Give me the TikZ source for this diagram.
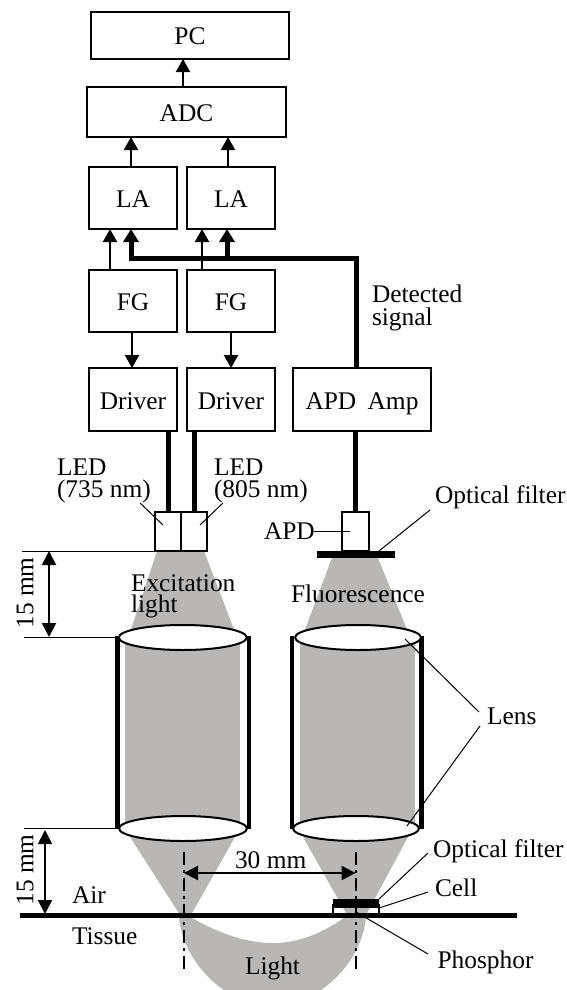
\documentclass[tikz,border=0pt]{standalone}
\usepackage{fontspec}
\setmainfont{Liberation Serif}
\usetikzlibrary{arrows.meta,calc}
\definecolor{lightgray}{HTML}{B8B7B5}
\tikzset{
  x=1pt,y=-1pt,
  every node/.style={font=\fontsize{25.4}{23}\selectfont,inner sep=0pt,outer sep=0pt},
  box/.style={draw,line width=2pt,fill=white,text height=19pt,text depth=0pt},
  lbl/.style={anchor=base west},
  uparrow/.style={line width=2.2pt,-{Triangle[length=13pt,width=14pt]}},
  heavy/.style={line width=5pt,line cap=butt},
  heavyup/.style={line width=5pt,-{Triangle[length=13pt,width=15pt]}},
  leader/.style={line width=1pt},
  dimarrow/.style={line width=2pt,{Triangle[length=14pt,width=14pt]}-{Triangle[length=14pt,width=14pt]}},
  axisline/.style={line width=2pt,dash pattern=on 13pt off 5pt on 3pt off 5pt},
  wall/.style={line width=4.5pt},
  lensdisc/.style={draw,line width=2pt,fill=white},
}
\begin{document}
\begin{tikzpicture}
\useasboundingbox (0,0) rectangle (566,990);
\clip (0,0) rectangle (566,990);
% light
\fill[lightgray] (157,551) -- (204,551) -- (235,632) -- (130,632) -- cycle;
\fill[lightgray] (332,558) -- (378,558) -- (408,632) -- (304,632) -- cycle;
\fill[lightgray] (124.5,637) rectangle (240,828);
\fill[lightgray] (300,637) rectangle (414.5,828);
\fill[lightgray] (130,837) -- (235,837) -- (191,915) -- (180,915) -- cycle;
\fill[lightgray] (303,837) -- (408,837) -- (366,915) -- (347,915) -- cycle;
\fill[lightgray] (179,915) .. controls (181,960) and (225,1006) .. (272,1006)
  .. controls (320,1006) and (364,960) .. (366,915) -- (348,915)
  .. controls (325,932) and (300,943) .. (273,943)
  .. controls (245,943) and (215,932) .. (187,915) -- cycle;
% tubes
\draw[wall] (117.5,636) -- (117.5,829);
\draw[wall] (249,636) -- (249,829);
\draw[wall] (292,636) -- (292,829);
\draw[wall] (421.7,636) -- (421.7,829);
\draw[lensdisc] (182.75,637.5) ellipse [x radius=64,y radius=12.5];
\draw[lensdisc] (358,637.5) ellipse [x radius=63,y radius=12.5];
\draw[lensdisc] (183,828.5) ellipse [x radius=64,y radius=12.5];
\draw[lensdisc] (356,828.5) ellipse [x radius=63,y radius=12.5];
% boxes
\node[box,minimum width=198pt,minimum height=47pt] (pc) at (190,35.5) {PC};
\node[box,minimum width=199pt,minimum height=50pt] (adc) at (186.5,112) {ADC};
\node[box,minimum width=88pt,minimum height=62pt] (la1) at (133,198) {LA};
\node[box,minimum width=88pt,minimum height=62pt] (la2) at (231,198) {LA};
\node[box,minimum width=88pt,minimum height=62pt] (fg1) at (133,301) {FG};
\node[box,minimum width=88pt,minimum height=62pt] (fg2) at (231,301) {FG};
\node[box,minimum width=88pt,minimum height=63pt] (dr1) at (133,399.5) {Driver};
\node[box,minimum width=88pt,minimum height=63pt] (dr2) at (231,399.5) {Driver};
\node[box,minimum width=138pt,minimum height=63pt] (amp) at (362,399.5) {APD\hspace{5pt} Amp\hspace{7pt}};
\node[box,minimum width=26pt,minimum height=39pt] (led1) at (168,531.5) {};
\node[box,minimum width=26pt,minimum height=39pt] (led2) at (194,531.5) {};
\node[box,minimum width=26.5pt,minimum height=39pt] (apd) at (355.5,531.5) {};
\node[fill=black,minimum width=78pt,minimum height=7pt] (filt1) at (356,554.5) {};
% thin arrows
\draw[uparrow] ([xshift=-7pt]adc.north -| pc.north) -- ([xshift=-7pt]pc.south);
\draw[uparrow] ([xshift=-2pt]la1.north) -- ([xshift=-2pt]la1.north |- adc.south);
\draw[uparrow] ([xshift=-3pt]la2.north) -- ([xshift=-3pt]la2.north |- adc.south);
\draw[uparrow] ([xshift=-23pt]fg1.north) -- ([xshift=-23pt]la1.south);
\draw[uparrow] ([xshift=-29pt]fg2.north) -- ([xshift=-29pt]la2.south);
\draw[uparrow] ([xshift=-1pt]fg1.south) -- ([xshift=-1pt]dr1.north);
\draw[uparrow] (fg2.south) -- (dr2.north);
% heavy signal
\coordinate (sigA) at ($(amp.north)+(-6,0)$);
\coordinate (bend) at (356,258);
\draw[heavy,line join=miter] (sigA) -- (sigA |- bend) -- ([xshift=-2pt]la1.south |- bend);
\draw[heavyup] ([xshift=-2pt,yshift=-2.5pt]la1.south |- bend) -- ([xshift=-2pt]la1.south);
\draw[heavyup] ([xshift=-4pt]la2.south |- bend) -- ([xshift=-4pt]la2.south);
% wires
\draw[heavy] (dr1.south -| led1.north) -- (led1.north);
\draw[heavy] (dr2.south -| led2.north) -- (led2.north);
\draw[heavy,line width=5.5pt] (amp.south -| apd.north) -- (apd.north);
% dimension lines
\coordinate (d1) at (21.5,551);
\coordinate (d2) at (23.5,637);
\coordinate (d3) at (23.5,828);
\coordinate (d2e) at (116,637);
\coordinate (d3e) at (116,828);
\draw[leader] (d1) -- (led1.south west);
\draw[leader] (d2) -- (d2e);
\draw[leader] (d3) -- (d3e);
\draw[dimarrow] (d1 -| 49,0) -- (d2 -| 49,0);
\draw[dimarrow] (45,830) -- (45,914);
\node[rotate=90] (dim1) at (25,593) {15 mm};
\node[rotate=90] (dim2) at (25,870) {15 mm};
% surface
\coordinate (s1) at (20,915);
\coordinate (s2) at (517,915);
\draw[line width=1.5pt] (333,915) rectangle (379,905);
\node[fill=black,minimum width=46pt,minimum height=9pt] (filt2) at (356,903.5) {};
\draw[line width=5pt] (s1) -- (s2);
\coordinate (ax1t) at (184,852);
\coordinate (ax1b) at (184,972);
\coordinate (ax2t) at (355.6,852);
\coordinate (ax2b) at (355.6,972);
\draw[axisline] (ax1t) -- (ax1b);
\draw[axisline] (ax2t) -- (ax2b);
\draw[dimarrow] (184,873) -- (355.6,873);
% labels
\node[lbl] (t30) at (235,868) {30 mm};
\node[lbl] (air) at (72,903) {Air};
\node[lbl] (tis) at (72,944) {Tissue};
\node[lbl] (lig) at (245,974) {Light};
\node[lbl] (of2) at (433,857) {Optical filter};
\node[lbl] (cel) at (435,896) {Cell};
\node[lbl] (pho) at (437.5,968) {Phosphor};
\node[lbl] (of1) at (435,503) {Optical filter};
\node[lbl] (lns) at (487,724) {Lens};
\node[lbl] (apdt) at (264,539) {APD};
\node[lbl] (led1t) at (57,475) {LED};
\node[lbl] (led1u) at (57,497) {(735 nm)};
\node[lbl] (led2t) at (214,475) {LED};
\node[lbl] (led2u) at (214,497) {(805 nm)};
\node[lbl] (det) at (372,302) {Detected};
\node[lbl] (sig) at (372,325) {signal};
\node[lbl] (exc) at (131,591) {Excitation};
\node[lbl] (exl) at (131,612) {light};
\node[lbl] (flu) at (291,602) {Fluorescence};
% leaders
\draw[leader] (140,503) -- (163,525);
\draw[leader] (223,503) -- (200,525);
\draw[leader] (314,531) -- (350,531);
\draw[leader] (430,510) -- (379,551);
\draw[leader] (405,639) -- (479,712);
\draw[leader] (480,726) -- (407,826);
\draw[leader] (379,899) -- (428,853);
\draw[leader] (379,908) -- (428,892);
\draw[leader] (356,912) -- (428,954);
\end{tikzpicture}
\end{document}
